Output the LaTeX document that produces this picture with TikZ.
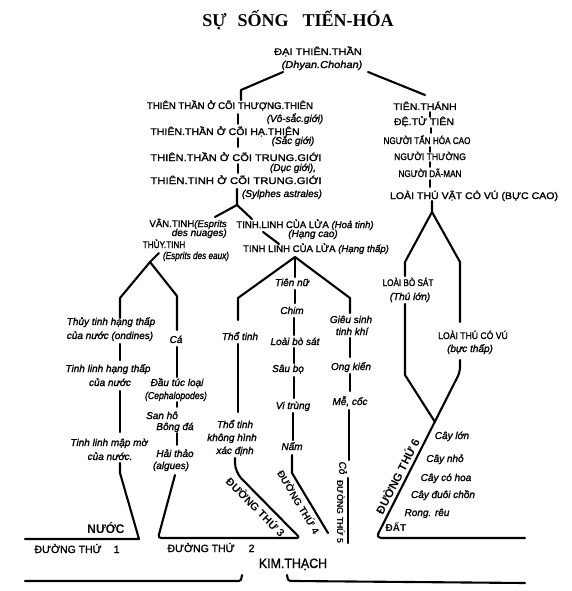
\documentclass[tikz,border=0pt]{standalone}
\usepackage{graphicx}
\usepackage{fontspec}
\setmainfont{Liberation Sans}
\newfontfamily\titlefont{Liberation Serif}
\newfontfamily\ink{Liberation Sans}[FakeBold=1.5]
\newcommand{\hsc}[2]{\scalebox{#1}[1]{#2}}
\tikzset{
  ln/.style={line width=2.1pt, line cap=round, line join=round},
  tk/.style={line width=1.7pt, line cap=round},
  lblU/.style={font=\ink\fontsize{9.6}{11}\selectfont, anchor=base, inner sep=0pt},
  lblH/.style={font=\ink\fontsize{10}{11}\selectfont\itshape, anchor=base, inner sep=0pt},
  lblB/.style={font=\fontsize{#1}{#1}\selectfont\bfseries, anchor=base, inner sep=0pt},
  lblR/.style={font=\fontsize{#1}{#1}\selectfont\bfseries, anchor=center, inner sep=0pt},
}
\begin{document}
\begin{tikzpicture}[x=1pt,y=-1pt]
\useasboundingbox[fill=white] (0,0) rectangle (572,591);

% title
\node[font=\titlefont\fontsize{18}{20}\selectfont\bfseries, anchor=base, inner sep=0pt] (title) at (298,27) {SỰ\hspace{11pt}SỐNG\hspace{14pt}TIẾN-HÓA};

% apex
\node[lblU] (dtt) at (318,55) {\hsc{1.15}{ĐẠI THIÊN.THẦN}};
\node[lblH] (dttf) at (322,68) {\hsc{1.1}{(Dhyan.Chohan)}};

% left stack
\node[lblU] (a1) at (230,109) {THIÊN THẦN Ở CÕI THƯỢNG.THIÊN};
\node[lblH] (a1s) at (295,122) {(Vô-sắc.giới)};
\node[lblU] (a2) at (225,135) {\hsc{1.1}{THIÊN.THẦN Ở CÕI HẠ.THIÊN}};
\node[lblH] (a2s) at (293,144) {(Sắc giới)};
\node[lblU] (a3) at (236,161) {\hsc{1.15}{THIÊN.THẦN Ở CÕI TRUNG.GIỚI}};
\node[lblH] (a3s) at (293,171) {(Dục giới),};
\node[lblU] (a4) at (236,184) {\hsc{1.18}{THIÊN.TINH Ở CÕI TRUNG.GIỚI}};
\node[lblH] (a4s) at (282,197) {(Sylphes astrales)};

% right stack
\node[lblU] (b1) at (425,110) {\hsc{1.1}{TIÊN.THÁNH}};
\node[lblU] (b2) at (424,125) {\hsc{1.1}{ĐỆ.TỬ TIÊN}};
\node[lblU] (b3) at (427,144) {\hsc{0.85}{NGƯỜI TẤN HÓA CAO}};
\node[lblU] (b4) at (430,160) {\hsc{0.9}{NGƯỜI THƯỜNG}};
\node[lblU] (b5) at (430,177) {\hsc{0.85}{NGƯỜI DÃ-MAN}};
\node[lblU] (b6) at (474,199) {\hsc{1.1}{LOÀI THÚ VẬT CÓ VÚ (BỰC CAO)}};

% spirits
\node[lblU, anchor=base east] (van1) at (227,227) {VÂN.TINH\textit{(Esprits}};
\node[lblH, anchor=base east] (van2) at (227,236) {des nuages)};
\node[lblU] (thuy) at (164,248) {\hsc{0.85}{THỦY.TINH}};
\node[lblH] (thuyf) at (196,259) {\hsc{0.82}{(Esprits des eaux)}};
\node[lblU] (hoa) at (305,228) {TINH.LINH CỦA LỬA \textit{(Hoả tinh)}};
\node[lblH] (hoac) at (313,237) {(Hạng cao)};
\node[lblU] (hoat) at (316,252) {TINH LINH CỦA LỬA \textit{(Hạng thấp)}};

% water column
\node[lblH] (c1) at (111,325) {Thủy tinh hạng thấp};
\node[lblH] (c2) at (110,339) {của nước (ondines)};
\node[lblH] (ca) at (176,343) {Cá};
\node[lblH] (c3) at (108,372) {Tinh linh hạng thấp};
\node[lblH] (c4) at (110,386) {của nước};
\node[lblH] (c5) at (109,446) {Tinh linh mập mờ};
\node[lblH] (c6) at (110,460) {của nước.};
\node[lblH] (d1) at (177,386) {Đầu túc loại};
\node[lblH] (d2) at (176,399) {\hsc{0.87}{(Cephalopodes)}};
\node[lblH] (d3) at (162,419) {San hô};
\node[lblH] (d4) at (175,430) {Bông đá};
\node[lblH] (d5) at (175,457) {Hải thảo};
\node[lblH] (d6) at (171,469) {(algues)};

% earth spirits
\node[lblH] (e1) at (240,340) {Thổ tinh};
\node[lblH] (e2) at (235,428) {Thổ tinh};
\node[lblH] (e3) at (232,441) {không hình};
\node[lblH] (e4) at (235,454) {xác định};

% centre
\node[lblH] (f1) at (292,286) {Tiên nữ};
\node[lblH] (f2) at (292,314) {Chim};
\node[lblH] (f3) at (295,345) {Loài bò sát};
\node[lblH] (f4) at (288,372) {Sâu bọ};
\node[lblH] (f5) at (293,409) {Vi trùng};
\node[lblH] (f6) at (292,450) {Nấm};

\node[lblH] (g1) at (351,323) {Giêu sinh};
\node[lblH] (g2) at (352,335) {tinh khí};
\node[lblH] (g3) at (351,370) {Ong kiến};
\node[lblH] (g4) at (350,405) {Mễ, cốc};
\node[font=\ink\fontsize{10}{11}\selectfont\itshape, inner sep=0pt, rotate=-90] (g5) at (343,468) {Cỏ};

% right
\node[lblU] (h1) at (408,286) {\hsc{0.85}{LOÀI BÒ SÁT}};
\node[lblH] (h2) at (410,300) {(Thú lớn)};
\node[lblU] (h3) at (473,339) {\hsc{0.9}{LOÀI THÚ CÓ VÚ}};
\node[lblH] (h4) at (470,352) {(bực thấp)};
\node[lblH] (k1) at (452,439) {Cây lớn};
\node[lblH] (k2) at (445,462) {Cây nhỏ};
\node[lblH] (k3) at (446,481) {Cây có hoa};
\node[lblH] (k4) at (443,498) {Cây đuôi chồn};
\node[lblH] (k5) at (427,516) {Rong. rêu};
\node[lblB=10] (dat) at (396,531) {ĐẤT};

% bottom
\node[lblB=12.5] (nuoc) at (106,533) {\hsc{0.95}{NƯỚC}};
\node[lblU, font=\ink\fontsize{10.5}{11}\selectfont] (dt1) at (77,553) {ĐƯỜNG THỨ\hspace{12pt}1};
\node[lblU, font=\ink\fontsize{10.5}{11}\selectfont] (dt2) at (211,552) {ĐƯỜNG THỨ\hspace{14pt}2};
\node[lblU, font=\ink\fontsize{13.5}{14}\selectfont] (kim) at (293,568) {\hsc{0.92}{KIM.THẠCH}};
\node[lblR=10.8, rotate=-45] (dt3) at (256,507) {ĐƯỜNG THỨ 3};
\node[lblR=10, rotate=-59] (dt4) at (299,502) {ĐƯỜNG THỨ 4};
\node[lblR=8.8, rotate=-90] (dt5) at (341,512) {ĐƯỜNG THỨ 5};
\node[lblR=11.5, rotate=63] (dt6) at (397,476) {ĐƯỜNG THỨ 6};

% ---------- connectors ----------
% from apex
\coordinate (ap1) at (283,72); \coordinate (ap1b) at (241,90); \coordinate (ap1c) at (241,100);
\coordinate (ap2) at (368,72); \coordinate (ap2b) at (425,95);
\draw[ln] (ap1) -- (ap1b) -- (ap1c);
\draw[ln] (ap2) -- (ap2b);

% left ticks
\coordinate (la1) at (238,114); \coordinate (la2) at (238,124);
\coordinate (lb1) at (238,138); \coordinate (lb2) at (238,147);
\coordinate (lc1) at (238,164); \coordinate (lc2) at (238,173);
\draw[tk] (la1) -- (la2); \draw[tk] (lb1) -- (lb2); \draw[tk] (lc1) -- (lc2);

% right ticks
\coordinate (ra1) at (430,112); \coordinate (ra2) at (430,117);
\coordinate (rb1) at (431,128); \coordinate (rb2) at (431,133);
\coordinate (rc1) at (430,147); \coordinate (rc2) at (430,152);
\coordinate (rd1) at (430,162); \coordinate (rd2) at (430,167);
\coordinate (re1) at (430,180); \coordinate (re2) at (430,187);
\draw[tk] (ra1) -- (ra2); \draw[tk] (rb1) -- (rb2); \draw[tk] (rc1) -- (rc2);
\draw[tk] (rd1) -- (rd2); \draw[tk] (re1) -- (re2);

% right V (animals / plants)
\coordinate (rv0) at (432,201); \coordinate (rv) at (432,212);
\coordinate (rvl) at (405,262); \coordinate (rvl1) at (405,276);
\coordinate (rvl2) at (405,304); \coordinate (rvl3) at (405,375);
\coordinate (rx) at (435,422);
\coordinate (rvr) at (460,262); \coordinate (rvr1) at (460,322);
\coordinate (rvr2) at (460,360); \coordinate (rvr3) at (460,372);
\coordinate (r6c) at (376,538); \coordinate (r6e) at (525,538);
\draw[ln] (rv0) -- (rv) -- (rvl) -- (rvl1);
\draw[ln] (rv) -- (rvr) -- (rvr1);
\draw[ln] (rvl2) -- (rvl3) -- (rx);
\draw[ln, rounded corners=5pt] (rvr2) -- (rvr3) -- (r6c) -- (r6e);

% left split
\coordinate (s0) at (237,189); \coordinate (s) at (237,205);
\coordinate (sl) at (215,217); \coordinate (sr) at (252,219);
\coordinate (sr2) at (263,232); \coordinate (sr3) at (279,244);
\draw[ln] (s0) -- (s) -- (sl);
\draw[ln] (s) -- (sr);
\draw[ln] (sr2) -- (sr3);

% water split
\coordinate (w0) at (159,253); \coordinate (w) at (150,262);
\coordinate (wl) at (120,298); \coordinate (wl1) at (120,318);
\coordinate (wr) at (177,296); \coordinate (wr1) at (177,330);
\draw[ln] (w0) -- (w) -- (wl) -- (wl1);
\draw[ln] (w) -- (wr) -- (wr1);

% water left column
\coordinate (wa1) at (120,344); \coordinate (wa2) at (120,360);
\coordinate (wb1) at (120,391); \coordinate (wb2) at (120,432);
\coordinate (wc1) at (120,463); \coordinate (wc2) at (120,473);
\coordinate (wc3) at (139,539); \coordinate (wc4) at (25,539);
\draw[ln] (wa1) -- (wa2);
\draw[ln] (wb1) -- (wb2);
\draw[ln] (wc1) -- (wc2) -- (wc3) -- (wc4);

% fish column
\coordinate (fa1) at (177,347); \coordinate (fa2) at (177,377);
\coordinate (fb1) at (177,402); \coordinate (fb2) at (177,407);
\coordinate (fc1) at (177,433); \coordinate (fc2) at (177,445);
\draw[ln] (fa1) -- (fa2);
\draw[tk] (fb1) -- (fb2);
\draw[tk] (fc1) -- (fc2);

% roads 2 and 3
\coordinate (q1) at (175,475); \coordinate (q2) at (158,538);
\coordinate (q3) at (300,538); \coordinate (q4) at (235,472);
\coordinate (q5) at (235,458);
\draw[ln, rounded corners=3pt] (q1) -- (q2) -- (q3) [rounded corners=9pt] -- (q4) [rounded corners=2pt] -- (q5);

% fire split
\coordinate (t) at (295,257);
\coordinate (tl) at (238,298); \coordinate (tl1) at (238,320);
\coordinate (tr) at (350,298); \coordinate (tr1) at (350,313);
\coordinate (tc) at (295,277);
\draw[ln] (tl1) -- (tl) -- (t) -- (tr) -- (tr1);
\draw[ln] (t) -- (tc);

% earth column
\coordinate (ea1) at (238,344); \coordinate (ea2) at (238,412);
\draw[ln] (ea1) -- (ea2);

% centre column
\coordinate (ca1) at (295,290); \coordinate (ca2) at (295,303);
\coordinate (cb1) at (294,318); \coordinate (cb2) at (294,335);
\coordinate (cc1) at (294,348); \coordinate (cc2) at (294,363);
\coordinate (cd1) at (294,377); \coordinate (cd2) at (294,398);
\coordinate (ce1) at (293,413); \coordinate (ce2) at (293,440);
\coordinate (cf1) at (292,455); \coordinate (cf2) at (292,473);
\coordinate (cf3) at (328,533);
\draw[ln] (ca1) -- (ca2);
\draw[ln] (cb1) -- (cb2);
\draw[ln] (cc1) -- (cc2);
\draw[ln] (cd1) -- (cd2);
\draw[ln] (ce1) -- (ce2);
\draw[ln] (cf1) -- (cf2) -- (cf3);

% right centre column
\coordinate (ga1) at (350,338); \coordinate (ga2) at (350,357);
\coordinate (gb1) at (350,374); \coordinate (gb2) at (350,391);
\coordinate (gc1) at (349,410); \coordinate (gc2) at (349,460);
\coordinate (gd1) at (348,478); \coordinate (gd2) at (348,543);
\draw[ln] (ga1) -- (ga2);
\draw[ln] (gb1) -- (gb2);
\draw[ln] (gc1) -- (gc2);
\draw[ln] (gd1) -- (gd2);

% mineral brackets
\coordinate (m1) at (25,581); \coordinate (m2) at (236,581); \coordinate (m3) at (242,575);
\coordinate (n1) at (287,575); \coordinate (n2) at (294,581); \coordinate (n3) at (525,583);
\draw[ln] (m1) -- (m2) .. controls (241,581) .. (m3);
\draw[ln] (n1) .. controls (288,581) .. (n2) -- (n3);
\end{tikzpicture}
\end{document}
